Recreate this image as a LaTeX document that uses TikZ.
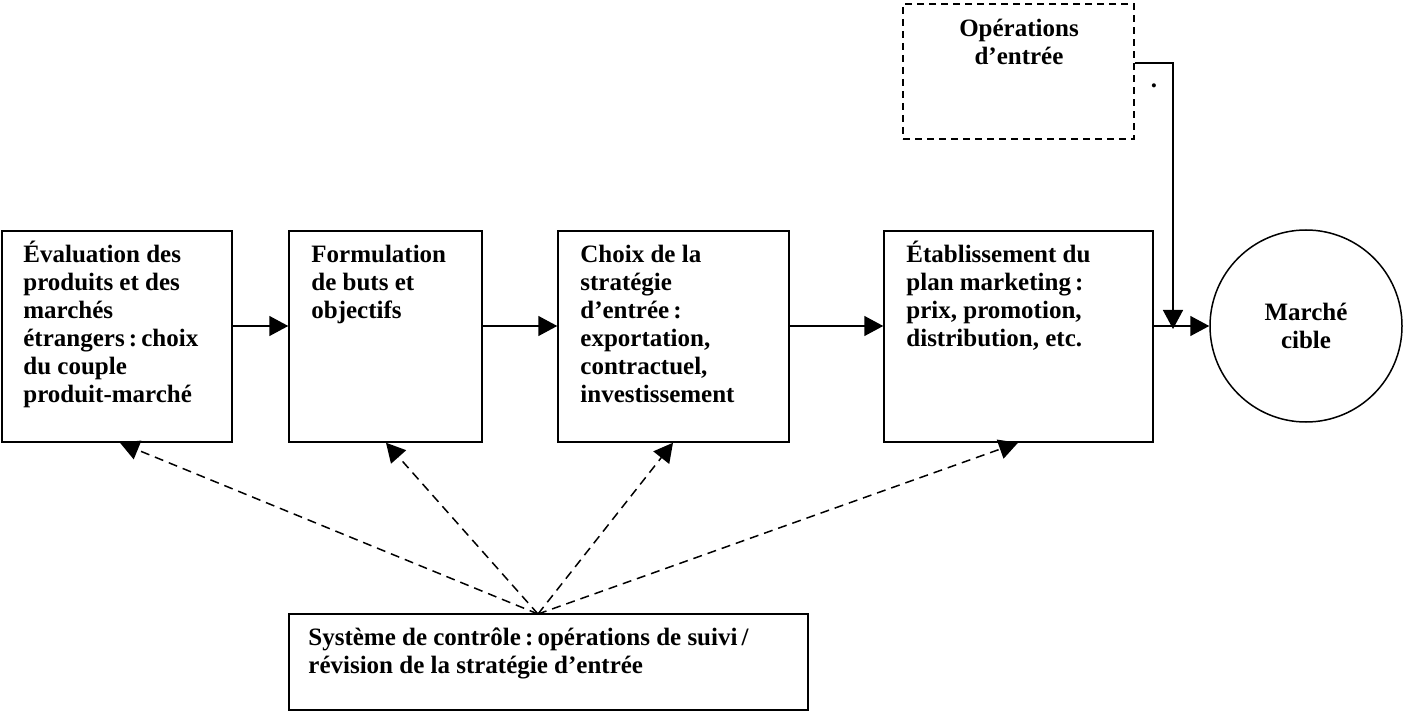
\documentclass[tikz,border=0pt]{standalone}
\usepackage{fontspec}
\setmainfont{Liberation Serif}
\usetikzlibrary{arrows.meta}
\newcommand\txtlines[1]{\begin{tabular}[t]{@{}l@{}}#1\end{tabular}}
\newcommand\txtcentre[1]{\begin{tabular}[t]{@{}c@{}}#1\end{tabular}}
\begin{document}
\begin{tikzpicture}[x=0.5pt,y=-0.5pt,
  lbl/.style={font=\fontsize{12.5}{14}\selectfont\bfseries},
  box/.style={draw, line width=0.75pt, inner sep=0, minimum height=105.5pt},
  txt/.style={lbl, anchor=base west, inner sep=0},
  arr/.style={line width=0.75pt, -{Triangle[length=9.5pt,width=10pt]}},
  darr/.style={arr, dash pattern=on 4.5pt off 3pt},
]
\useasboundingbox (0,0) rectangle (1403,711);

% main boxes
\node[box, minimum width=115pt]   (b1) at (117,336.5) {};
\node[box, minimum width=96.5pt]  (b2) at (385.5,336.5) {};
\node[box, minimum width=115.5pt] (b3) at (673.5,336.5) {};
\node[box, minimum width=134.5pt] (b4) at (1018.5,336.5) {};
\node[draw, circle, line width=0.75pt, minimum size=96pt, inner sep=0, align=center, lbl] (mc) at (1306,326) {Marché\\cible};

% texts
\node[txt] (t1) at (23,263) {\txtlines{Évaluation des\\produits et des\\marchés\\étrangers\,:\,choix\\du couple\\produit-marché}};
\node[txt] (t2) at (311,263) {\txtlines{Formulation\\de buts et\\objectifs}};
\node[txt] (t3) at (580,263) {\txtlines{Choix de la\\stratégie\\d’entrée\,:\\exportation,\\contractuel,\\investissement}};
\node[txt] (t4) at (906,263) {\txtlines{Établissement du\\plan marketing\,:\\prix, promotion,\\distribution, etc.}};

% entry operations (dashed)
\node[draw, line width=0.75pt, dash pattern=on 3.5pt off 2.5pt, inner sep=0, minimum width=115.5pt, minimum height=67.5pt] (ops) at (1018.5,71.5) {};
\node[lbl, anchor=base, inner sep=0] (opst) at (1019,37) {\txtcentre{Opérations\\d’entrée}};
\node[lbl, anchor=base, inner sep=0] (dot) at (1154,88) {.};

% control system
\node[draw, line width=0.75pt, inner sep=0, minimum width=259.5pt, minimum height=48pt] (ctl) at (548.5,662) {};
\node[txt] (ctlt) at (308,645) {\txtlines{Système de contrôle\,:\,opérations de suivi\,/\\révision de la stratégie d’entrée}};

% solid arrows
\draw[arr] (b1.east |- 0,326) -- (b2.west |- 0,326);
\draw[arr] (b2.east |- 0,326) -- (b3.west |- 0,326);
\draw[arr] (b3.east |- 0,326) -- (b4.west |- 0,326);
\draw[arr] (b4.east |- 0,326) -- (mc.west);
\coordinate (mt) at (1173,329);
\draw[arr] (ops.east |- 0,63) -| (mt);

% dashed feedback arrows
\coordinate (cv) at (538,614);
\draw[darr] (cv) -- (120,0 |- b1.south);
\draw[darr] (cv) -- (386,0 |- b2.south);
\draw[darr] (cv) -- (673,0 |- b3.south);
\draw[darr] (cv) -- (1018,0 |- b4.south);
\end{tikzpicture}
\end{document}
